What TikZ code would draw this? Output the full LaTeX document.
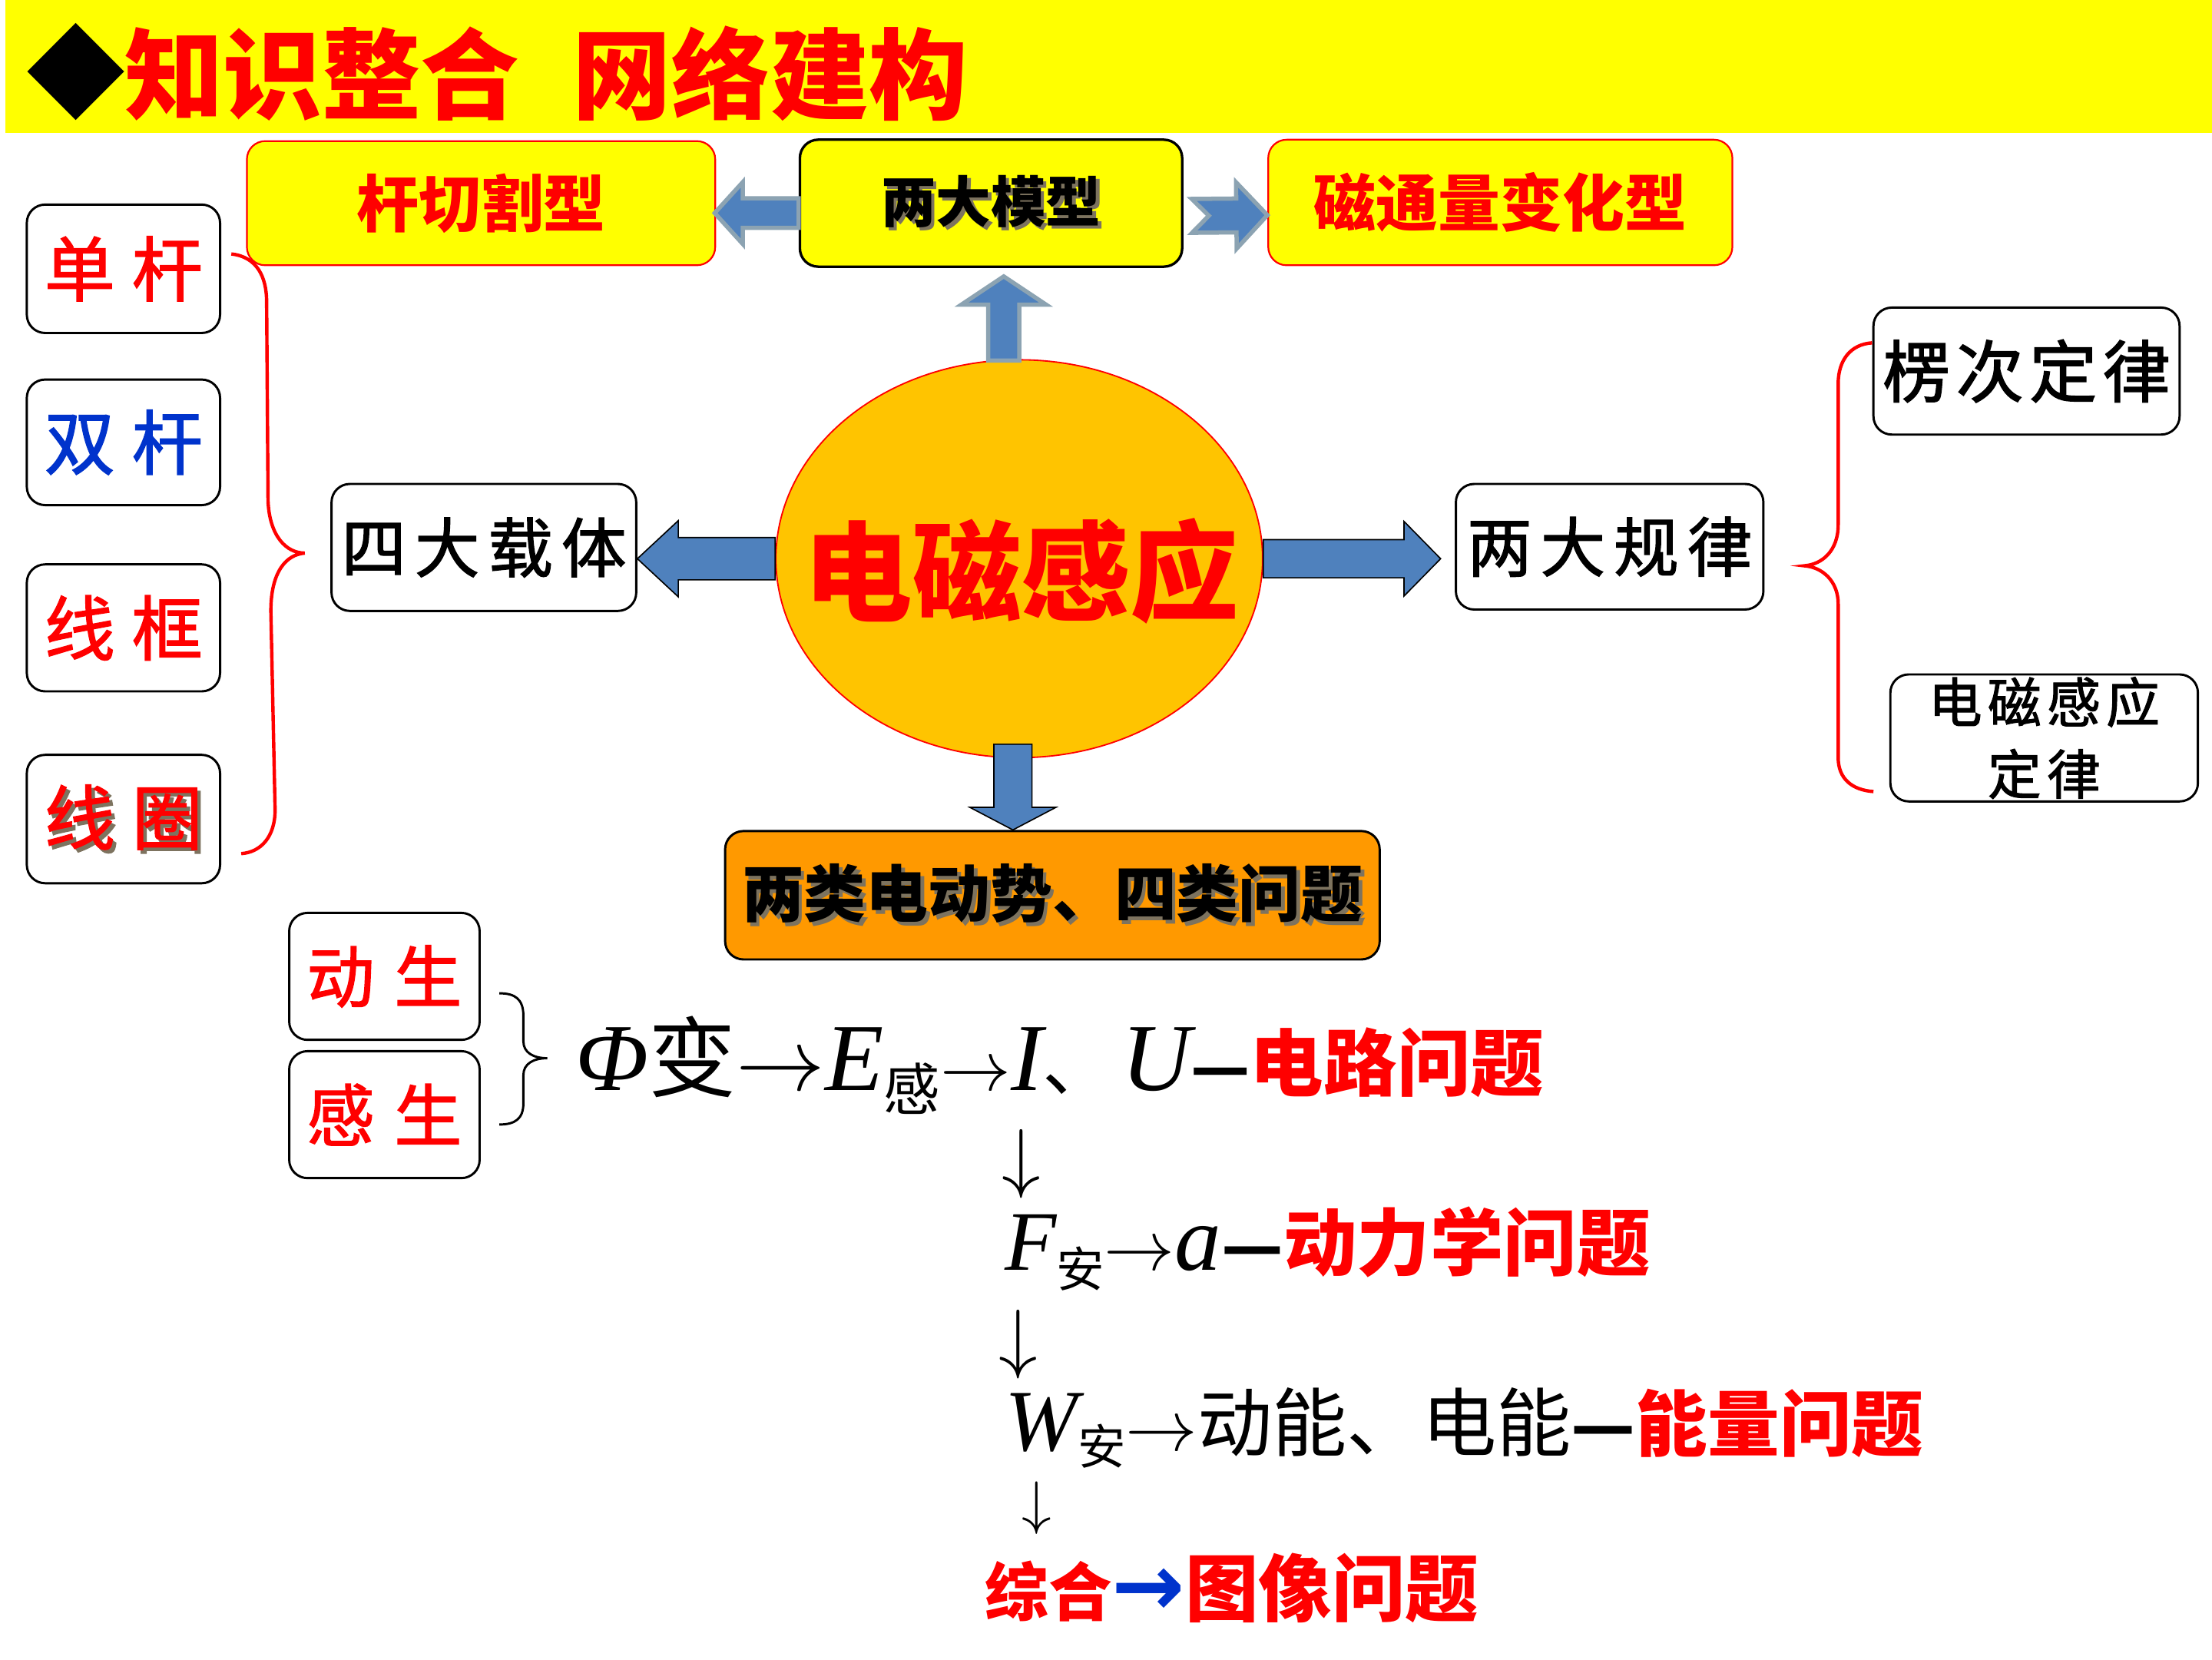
\RequirePackage{fix-cm}
\documentclass[tikz,border=0pt]{standalone}
\usepackage{fontspec}
\setmainfont{Liberation Serif}
\newfontfamily\cjk{Noto Sans CJK SC}
\newfontfamily\kai[FakeBold=1.6]{Noto Sans CJK SC}
\newfontfamily\dejavu{DejaVu Sans}
\usetikzlibrary{calc,shapes.geometric}
\definecolor{band}{RGB}{255,255,0}
\definecolor{tred}{RGB}{255,0,0}
\definecolor{tblue}{RGB}{0,51,204}
\definecolor{arrblue}{RGB}{79,129,189}
\definecolor{arrgray}{RGB}{140,163,178}
\definecolor{gold}{RGB}{255,196,0}
\definecolor{orng}{RGB}{255,153,0}
\definecolor{shad}{RGB}{125,115,95}
\newcommand\setfs[1]{\fontsize{#1pt}{#1pt}\selectfont}
\newcommand\shd[2]{\makebox[0pt][l]{\kern2.5pt\raisebox{-2.5pt}{\color{shad}#2}}{\color{#1}#2}}
\newcommand\rarr[1]{{\setfs{#1}$\rightarrow$}}
\newcommand\darr[1]{{\setfs{#1}$\downarrow$}}
\newcommand\blockarrow[7][]{%
  \coordinate (bac) at ($(#3)!#6!(#2)$);
  \coordinate (bat) at ($(#2)!#7!(#3)$);
  \path[#1] ($(#2)!#4!90:(#3)$) -- ($(bac)!#4!90:(#3)$) -- ($(bac)!#5!90:(#3)$) -- (#3)
    -- ($(bac)!#5!-90:(#3)$) -- ($(bac)!#4!-90:(#3)$) -- ($(#2)!#4!-90:(#3)$) -- (bat) -- cycle;
}
\tikzset{
  box/.style={draw=black, line width=1.6pt, rounded corners=13pt, fill=white, inner sep=0pt},
  ybox/.style={box, fill=band, draw=tred, line width=1.2pt},
  barr/.style={fill=arrblue, draw=black, line width=0.9pt, line join=miter},
  garr/.style={fill=arrblue, draw=arrgray, line width=3pt, line join=miter},
  rbrace/.style={draw=tred, line width=2.4pt},
  kbrace/.style={draw=black, line width=1.6pt},
}
\begin{document}
\begin{tikzpicture}[x=1pt,y=-1pt]
\useasboundingbox (0,0) rectangle (1568,1176);
\fill[white] (0,0) rectangle (1568,1176);
% header
\fill[band] (4,0) rectangle (1568,94);
\node[inner sep=0] (dia) at (54,51) {\dejavu\setfs{90}◆};
\node[anchor=west, inner sep=0] (title) at (88,52) {\cjk\bfseries\setfs{70}\color{tred}知识整合\kern38pt 网络建构};
% top row
\node[ybox, minimum width=332pt, minimum height=88pt] (m1) at (341,144) {\cjk\bfseries\setfs{44}\color{tred}杆切割型};
\node[box, fill=band, line width=1.8pt, minimum width=271pt, minimum height=90pt] (m2) at (702.5,144) {\cjk\bfseries\setfs{39}\shd{black}{两大模型}};
\node[ybox, minimum width=329pt, minimum height=89pt] (m3) at (1063.5,143.5) {\cjk\bfseries\setfs{44}\color{tred}磁通量变化型};
% left column
\node[box, minimum width=137pt, minimum height=91pt] (c1) at (87.5,190.5) {\kai\setfs{50}\color{tred}单\kern12pt 杆};
\node[box, minimum width=137pt, minimum height=89pt] (c2) at (87.5,313.5) {\kai\setfs{50}\color{tblue}双\kern12pt 杆};
\node[box, minimum width=137pt, minimum height=90pt] (c3) at (87.5,445) {\kai\setfs{50}\color{tred}线\kern12pt 框};
\node[box, minimum width=137pt, minimum height=91pt] (c4) at (87.5,580.5) {\kai\setfs{50}\shd{tred}{线\kern12pt 圈}};
% middle
\node[box, minimum width=216pt, minimum height=90pt] (n4) at (343,388) {\kai\setfs{46}四\kern6pt 大\kern6pt 载\kern6pt 体};
\node[box, minimum width=218pt, minimum height=89pt] (g2) at (1141,387.5) {\kai\setfs{46}两\kern6pt 大\kern6pt 规\kern6pt 律};
\node[box, minimum width=217pt, minimum height=90pt] (l1) at (1436.5,263) {\kai\setfs{48}楞\kern4pt 次\kern4pt 定\kern4pt 律};
\node[box, minimum width=218pt, minimum height=90pt, align=center, font={\kai\fontsize{38pt}{51pt}\selectfont}] (l2) at (1449,523) {电\kern4pt 磁\kern4pt 感\kern4pt 应\\定\kern4pt 律};
\node[box, fill=orng, minimum width=464pt, minimum height=91pt] (p) at (746,634.5) {\cjk\bfseries\setfs{44}\shd{black}{两类电动势、四类问题}};
\node[box, minimum width=135pt, minimum height=90pt] (d1) at (272.5,692) {\kai\setfs{48}\color{tred}动\kern14pt 生};
\node[box, minimum width=135pt, minimum height=90pt] (d2) at (272.5,790) {\kai\setfs{48}\color{tred}感\kern14pt 生};
% ellipse
\node[ellipse, fill=gold, draw=tred, line width=1pt, minimum width=345pt, minimum height=282pt, inner sep=0pt] (ee) at (722.5,396) {};
\node[inner sep=0] (eet) at (724,405) {\cjk\bfseries\setfs{77}\color{tred}电磁感应};
% block arrows
\coordinate (tlA) at ($(m2.west)+(0,7)$);
\coordinate (tlB) at ($(m1.east)+(-1,7)$);
\blockarrow[garr]{tlA}{tlB}{10.5pt}{22pt}{20pt}{0pt}
\coordinate (trA) at ($(m2.east)+(6,9)$);
\coordinate (trB) at ($(m3.west)+(0,9)$);
\blockarrow[garr]{trA}{trB}{12pt}{23.5pt}{22pt}{12pt}
\coordinate (upA) at ($(ee.north)+(-11,1)$);
\coordinate (upB) at ($(upA |- m2.south)+(0,6)$);
\blockarrow[garr]{upA}{upB}{11pt}{30pt}{20pt}{0pt}
\coordinate (lB) at (n4.east |- ee.west);
\blockarrow[barr]{ee.west}{lB}{15pt}{27pt}{29pt}{0pt}
\coordinate (rB) at ($(g2.west |- ee.east)+(-10,0)$);
\blockarrow[barr]{ee.east}{rB}{13.5pt}{26.5pt}{26pt}{0pt}
\coordinate (dA) at ($(ee.south)+(-4.5,-10)$);
\coordinate (dB) at (dA |- p.north);
\blockarrow[barr]{dA}{dB}{13.5pt}{30.5pt}{16pt}{0pt}
% braces
\draw[rbrace] (164,180) .. controls (182,182) and (189,196) .. (189,214) -- (190,355)
  .. controls (191,380) and (203,392) .. (216,392)
  .. controls (203,393) and (192,405) .. (192,433) -- (195,574)
  .. controls (195,593) and (185,604) .. (171,605);
\draw[rbrace] (1327,243) .. controls (1312,244) and (1303,255) .. (1303,272) -- (1303,372)
  .. controls (1303,390) and (1292,400) .. (1279,401)
  .. controls (1292,402) and (1303,412) .. (1303,428) -- (1303,537)
  .. controls (1303,552) and (1313,560) .. (1328,561);
\draw[kbrace] (354,704) .. controls (365,704) and (371,708) .. (371,720) -- (371,738)
  .. controls (371,746) and (378,750) .. (388,750)
  .. controls (378,750) and (371,754) .. (371,762) -- (371,782)
  .. controls (371,793) and (365,797) .. (354,797);
% formulas
\node[anchor=base west, inner sep=0] (f1) at (408,773) {{\setfs{68}\itshape Φ}{\cjk\setfs{62}变}\rarr{63}{\setfs{68}\itshape E}{\cjk\setfs{40}\raisebox{-14pt}{感}}\rarr{50}{\setfs{68}\itshape I}{\cjk\setfs{50}、}\kern6pt{\setfs{68}\itshape U}{\cjk\bfseries\setfs{46}—}{\cjk\bfseries\setfs{52}\color{tred}电路问题}};
\node[inner sep=0] (a1) at (724,825) {\darr{55}};
\node[anchor=base west, inner sep=0] (f2) at (712,900) {{\setfs{60}\itshape F}{\cjk\setfs{34}\raisebox{-12pt}{安}}\rarr{50}{\setfs{66}\itshape a}{\cjk\bfseries\setfs{48}—}{\cjk\bfseries\setfs{52}\color{tred}动力学问题}};
\node[inner sep=0] (a2) at (722,953) {\darr{55}};
\node[anchor=base west, inner sep=0] (f3) at (712,1028) {{\setfs{62}\itshape W}{\cjk\setfs{34}\raisebox{-10pt}{安}}\rarr{51}{\cjk\setfs{53}动能、电能}{\cjk\bfseries\setfs{50}—}{\cjk\bfseries\setfs{51}\color{tred}能量问题}};
\node[inner sep=0] (a3) at (735,1069) {\darr{42}};
\node[anchor=base west, inner sep=0] (f4) at (698,1145) {{\cjk\bfseries\setfs{45}\color{tred}综合}{\dejavu\bfseries\setfs{62}\color{tblue}→}{\cjk\bfseries\setfs{52}\color{tred}图像问题}};
\end{tikzpicture}
\end{document}
